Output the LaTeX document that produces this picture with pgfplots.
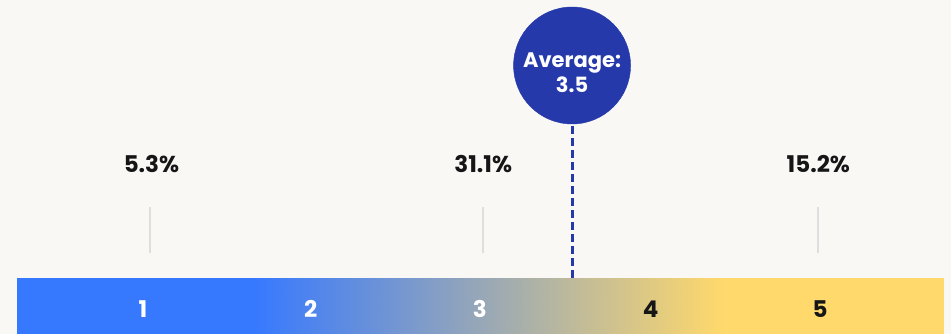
\documentclass[border=0pt]{standalone}
\usepackage{pgfplots}
\pgfplotsset{compat=1.18}
\usepackage{fontspec}
\setmainfont{Poppins}
\definecolor{bg}{RGB}{249,248,245}
\definecolor{avg}{RGB}{37,57,170}
\definecolor{txt}{RGB}{22,22,22}
\definecolor{tickgray}{RGB}{222,222,222}
\begin{document}
\begin{tikzpicture}
\begin{axis}[
  set layers,
  width=951pt, height=334pt, scale only axis,
  xmin=0.155, xmax=5.774, ymin=0, ymax=334,
  axis line style={draw=none}, ticks=none,
  axis background/.style={fill=bg},
  clip=false,
  colormap={bar}{rgb255(0pt)=(55,121,254) rgb255(238pt)=(55,121,254) rgb255(708pt)=(255,217,107) rgb255(926pt)=(255,217,107)},
]
% gradient scale bar
\addplot[surf, shader=interp, point meta=x, point meta min=0.2555, point meta max=5.727, mesh/cols=4] table {
x y
0.2555 0
1.662 0
4.439 0
5.727 0
0.2555 56
1.662 56
4.439 56
5.727 56
};
% gray guide lines
\addplot[tickgray, line width=2.6pt] coordinates {(1.041,81) (1.041,127)};
\addplot[tickgray, line width=2.6pt] coordinates {(3.009,81) (3.009,127)};
\addplot[tickgray, line width=2.6pt] coordinates {(4.988,81) (4.988,127)};
% average
\addplot[avg, line width=3pt, dash pattern=on 8pt off 4pt] coordinates {(3.535,56) (3.535,210)};
\addplot[only marks, mark=*, mark size=58.5pt, color=avg, mark options={draw=avg, fill=avg}] coordinates {(3.535,268.5)};
\begin{pgfonlayer}{axis foreground}
\node[anchor=base, text=white, font=\fontsize{21}{24}\selectfont\bfseries] at (axis cs:3.535,266) {Average:};
\node[anchor=base, text=white, font=\fontsize{21}{24}\selectfont\bfseries] at (axis cs:3.535,241) {3.5};
\end{pgfonlayer}
% percentages
\node[anchor=base, text=txt, font=\fontsize{23}{26}\selectfont\bfseries] at (axis cs:1.05,161.3) {5.3\%};
\node[anchor=base, text=txt, font=\fontsize{23}{26}\selectfont\bfseries] at (axis cs:3.01,161.3) {31.1\%};
\node[anchor=base, text=txt, font=\fontsize{23}{26}\selectfont\bfseries] at (axis cs:4.99,161.3) {15.2\%};
% scale numbers
\node[anchor=base, text=white, font=\fontsize{23}{26}\selectfont\bfseries] at (axis cs:1,16.7) {1};
\node[anchor=base, text=white, font=\fontsize{23}{26}\selectfont\bfseries] at (axis cs:1.99,16.7) {2};
\node[anchor=base, text=white, font=\fontsize{23}{26}\selectfont\bfseries] at (axis cs:2.99,16.7) {3};
\node[anchor=base, text=txt, font=\fontsize{23}{26}\selectfont\bfseries] at (axis cs:4,16.7) {4};
\node[anchor=base, text=txt, font=\fontsize{23}{26}\selectfont\bfseries] at (axis cs:5,16.7) {5};
\end{axis}
\end{tikzpicture}
\end{document}
